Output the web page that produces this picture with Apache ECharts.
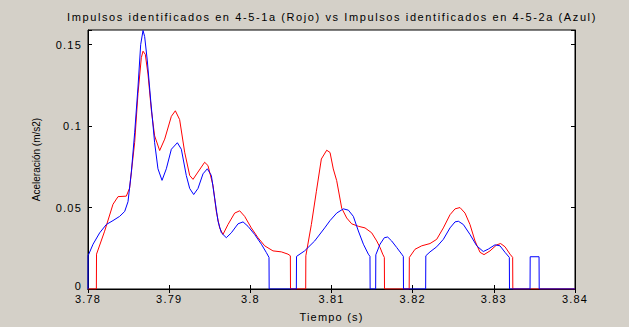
<!DOCTYPE html>
<html>
<head>
<meta charset="utf-8">
<script src="https://cdn.jsdelivr.net/npm/echarts@6/dist/echarts.min.js"></script>
<style>
  html, body { margin: 0; padding: 0; background: #d4d0c8; }
  #chart { width: 629px; height: 327px; }
  #chart svg text { letter-spacing: 1.2px; }
</style>
</head>
<body>
<div id="chart"></div>
<script>
// Impulsos 4-5-1a (rojo)
const redT = [3.78, 3.78103, 3.78105, 3.78205, 3.78308, 3.7837, 3.78472, 3.78513, 3.78575, 3.78616,
  3.78657, 3.78678, 3.78706, 3.78739, 3.7878, 3.78821, 3.78883, 3.78945, 3.79027, 3.79076,
  3.79129, 3.79191, 3.79253, 3.79294, 3.79355, 3.79437, 3.79478, 3.7954, 3.79581, 3.79622,
  3.79663, 3.79725, 3.79807, 3.79869, 3.7993, 3.80012, 3.80094, 3.80177, 3.80279, 3.80382,
  3.80464, 3.80493, 3.80495, 3.80682, 3.80684, 3.80752, 3.80813, 3.80875, 3.80941, 3.80982,
  3.81022, 3.81064, 3.81126, 3.81187, 3.81249, 3.81331, 3.81413, 3.81495, 3.81557, 3.81598,
  3.81631, 3.81651, 3.81653, 3.81957, 3.81959, 3.82029, 3.82111, 3.82214, 3.82296, 3.82378,
  3.8246, 3.82522, 3.82583, 3.82645, 3.82706, 3.82768, 3.8283, 3.82879, 3.82953, 3.83035,
  3.83084, 3.83138, 3.83199, 3.83232, 3.83234, 3.84];
const redV = [0, 0, 0.0214, 0.0355, 0.052, 0.0567, 0.057, 0.062, 0.09, 0.12,
  0.142, 0.146, 0.144, 0.132, 0.11, 0.094, 0.085, 0.092, 0.106, 0.1094,
  0.104, 0.084, 0.0697, 0.0673, 0.0718, 0.0778, 0.0758, 0.0637, 0.0476, 0.0375,
  0.0335, 0.0396, 0.0466, 0.048, 0.0446, 0.0375, 0.0315, 0.0265, 0.0234, 0.0228,
  0.0214, 0.0204, 0, 0, 0.0204, 0.0396, 0.0597, 0.0798, 0.0852, 0.0838,
  0.0737, 0.0665, 0.0496, 0.0436, 0.04, 0.0385, 0.0375, 0.0345, 0.0295, 0.0255,
  0.0214, 0.0194, 0, 0, 0.0194, 0.0244, 0.0265, 0.0279, 0.0305, 0.0375,
  0.0456, 0.0492, 0.05, 0.0466, 0.0396, 0.0295, 0.0225, 0.0211, 0.0234, 0.0271,
  0.0279, 0.0259, 0.0214, 0.0194, 0, 0];

// Impulsos 4-5-2a (azul)
const blueT = [3.78, 3.78001, 3.78062, 3.78144, 3.78226, 3.78308, 3.7839, 3.78452, 3.78493, 3.78534,
  3.78575, 3.78616, 3.78649, 3.78678, 3.78698, 3.78731, 3.78772, 3.78821, 3.78862, 3.78912,
  3.78965, 3.79027, 3.79101, 3.7915, 3.79211, 3.79253, 3.79302, 3.79355, 3.79417, 3.7947,
  3.7952, 3.79561, 3.79602, 3.79643, 3.79704, 3.79766, 3.79848, 3.7991, 3.79971, 3.80053,
  3.80136, 3.80197, 3.8023, 3.80232, 3.80567, 3.80569, 3.80669, 3.80793, 3.80916, 3.80982,
  3.81064, 3.81146, 3.81208, 3.81269, 3.81331, 3.81393, 3.81454, 3.81474, 3.81476, 3.81544,
  3.81546, 3.81598, 3.81651, 3.81692, 3.81741, 3.81803, 3.81865, 3.81885, 3.81887, 3.8216,
  3.82162, 3.82214, 3.82296, 3.82378, 3.8246, 3.82522, 3.82563, 3.82624, 3.82706, 3.82789,
  3.8287, 3.82932, 3.83014, 3.83076, 3.83138, 3.83191, 3.83193, 3.83446, 3.83448, 3.83557,
  3.83559, 3.84];
const blueV = [0, 0.0204, 0.0275, 0.0345, 0.0396, 0.042, 0.0446, 0.0476, 0.0536, 0.0717,
  0.0959, 0.124, 0.15, 0.1587, 0.155, 0.14, 0.116, 0.0898, 0.0738, 0.0667,
  0.0738, 0.0858, 0.0898, 0.0858, 0.0697, 0.0617, 0.058, 0.0617, 0.0707, 0.0738,
  0.0697, 0.0556, 0.0416, 0.0345, 0.0315, 0.0345, 0.04, 0.0412, 0.0385, 0.0335,
  0.0275, 0.0224, 0.0194, 0, 0, 0.02, 0.0234, 0.0295, 0.0375, 0.042,
  0.0466, 0.0492, 0.0484, 0.0446, 0.0356, 0.0275, 0.0214, 0.02, 0, 0,
  0.021, 0.0275, 0.0315, 0.0319, 0.0295, 0.0255, 0.0214, 0.02, 0, 0,
  0.0204, 0.0228, 0.0259, 0.0305, 0.0375, 0.0412, 0.0416, 0.0396, 0.0335, 0.0265,
  0.023, 0.0245, 0.0271, 0.0265, 0.0225, 0.0194, 0, 0, 0.0198, 0.0198,
  0, 0];

const xTicks = [3.78, 3.79, 3.8, 3.81, 3.82, 3.83, 3.84];
const yTicks = [0, 0.05, 0.1, 0.15];
const yMax = 0.159;

const font = '"Liberation Sans", Arial, sans-serif';

const pairs = (t, v) => t.map((x, i) => [x, v[i]]);
const isTick = (list, v) => list.some(d => Math.abs(d - v) < 1e-6);

const chart = echarts.init(document.getElementById('chart'), null, { renderer: 'svg' });

const tickCommon = {
  show: true,
  inside: true,
  length: 4,
  lineStyle: { color: '#000', width: 1 }
};

chart.setOption({
  backgroundColor: '#d4d0c8',
  animation: false,
  title: {
    text: 'Impulsos identificados en 4-5-1a (Rojo) vs Impulsos identificados en 4-5-2a (Azul)',
    left: 332,
    top: 11,
    padding: 0,
    textAlign: 'center',
    textStyle: { fontFamily: font, fontSize: 11, fontWeight: 'normal', color: '#000' }
  },
  grid: {
    left: 88,
    right: 54,
    top: 30,
    bottom: 33.5,
    show: true,
    backgroundColor: '#fff',
    borderColor: '#000',
    borderWidth: 1
  },
  xAxis: [{
    type: 'value',
    min: 3.78,
    max: 3.84,
    interval: 0.01,
    name: 'Tiempo (s)',
    nameLocation: 'middle',
    nameGap: 22,
    nameTextStyle: { fontFamily: font, fontSize: 11, color: '#000' },
    axisLine: { show: true, onZero: false, lineStyle: { color: '#000' } },
    axisTick: tickCommon,
    splitLine: { show: false },
    axisLabel: {
      fontFamily: font, fontSize: 11, color: '#000', margin: 4,
      formatter: v => isTick(xTicks, v) ? String(+v.toFixed(2)) : ''
    }
  }, {
    type: 'value',
    position: 'top',
    min: 3.78,
    max: 3.84,
    interval: 0.01,
    axisLine: { show: true, lineStyle: { color: '#000' } },
    axisTick: tickCommon,
    axisLabel: { show: false },
    splitLine: { show: false }
  }],
  yAxis: [{
    type: 'value',
    min: 0,
    max: yMax,
    interval: 0.05,
    name: 'Aceleración (m/s2)',
    nameLocation: 'middle',
    nameGap: 47,
    nameTextStyle: { fontFamily: font, fontSize: 10, color: '#000' },
    axisLine: { show: true, lineStyle: { color: '#000' } },
    axisTick: tickCommon,
    splitLine: { show: false },
    axisLabel: {
      fontFamily: font, fontSize: 11, color: '#000', margin: 6,
      // the zero label sits a little higher, just above "3.78"
      formatter: v => !isTick(yTicks, v) ? '' : (v === 0 ? '{z|0}' : String(+v.toFixed(2))),
      rich: { z: { fontFamily: font, fontSize: 11, color: '#000', padding: [0, 0, 7, 0] } }
    }
  }, {
    type: 'value',
    position: 'right',
    min: 0,
    max: yMax,
    interval: 0.05,
    axisLine: { show: true, lineStyle: { color: '#000' } },
    axisTick: tickCommon,
    axisLabel: { show: false },
    splitLine: { show: false }
  }],
  series: [{
    name: '4-5-1a',
    type: 'line',
    data: pairs(redT, redV),
    showSymbol: false,
    lineStyle: { color: '#ff0000', width: 1 },
    itemStyle: { color: '#ff0000' }
  }, {
    name: '4-5-2a',
    type: 'line',
    data: pairs(blueT, blueV),
    showSymbol: false,
    lineStyle: { color: '#0000ff', width: 1 },
    itemStyle: { color: '#0000ff' }
  }]
});

// spacing of the old plot text: title wider, y axis name normal
document.querySelectorAll('#chart svg text').forEach(el => {
  const s = el.textContent;
  if (s.indexOf('Aceler') === 0) el.style.letterSpacing = '0px';
  if (s.indexOf('Impulsos') === 0) el.style.letterSpacing = '1.6px';
});
</script>
</body>
</html>
